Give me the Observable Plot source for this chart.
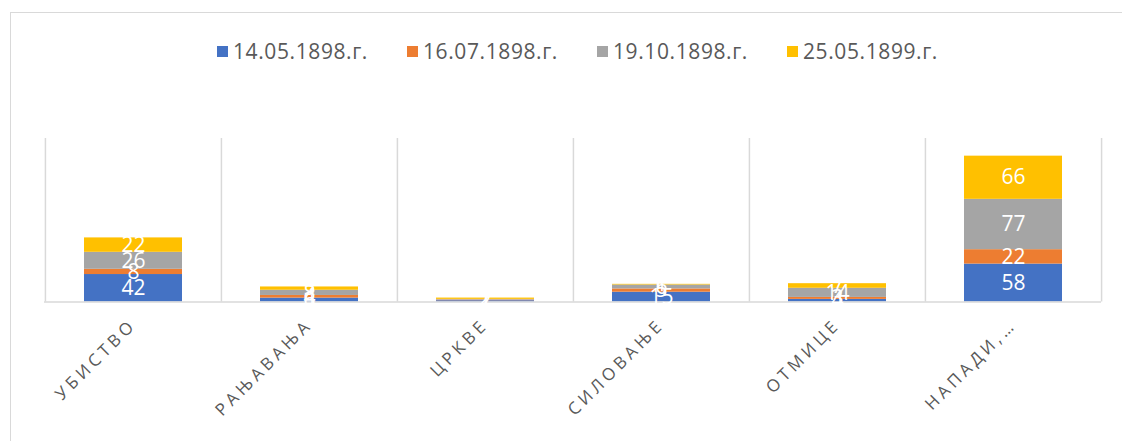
<!DOCTYPE html>
<html>
<head>
<meta charset="utf-8">
<script src="https://cdn.jsdelivr.net/npm/d3@7"></script>
<script src="https://cdn.jsdelivr.net/npm/@observablehq/plot@0.6"></script>
<style>
  html, body { margin: 0; padding: 0; background: #fff; overflow: hidden; }
  #wrap { position: relative; width: 1122px; height: 441px; }
  #border { position: absolute; left: 10px; top: 12px; width: 1130px; height: 450px; border: 1.5px solid #d9d9d9; box-sizing: border-box; }
  #legend { position: absolute; top: 37px; left: 217px; display: flex; font-family: "Open Sans", "Liberation Sans", sans-serif; font-size: 21px; letter-spacing: 0.6px; color: #595959; }
  #legend .item { display: flex; align-items: center; gap: 5px; width: 190px; }
  #legend .sw { width: 11px; height: 11px; display: inline-block; flex: none; }
  #chart { position: absolute; left: 0; top: 0; }
  #chart svg g[aria-label="x-axis tick label"] text, #chart svg g[aria-label="x-axis"] text { letter-spacing: 4px; }
</style>
</head>
<body>
<div id="wrap">
  <div id="border"></div>
  <div id="legend"></div>
  <div id="chart"></div>
</div>
<script>
const categories = ["УБИСТВО", "РАЊАВАЊА", "ЦРКВЕ", "СИЛОВАЊЕ", "ОТМИЦЕ", "НАПАДИ,…"];
const seriesNames = ["14.05.1898.г.", "16.07.1898.г.", "19.10.1898.г.", "25.05.1899.г."];
const seriesColors = ["#4472C4", "#ED7D31", "#A5A5A5", "#FFC000"];
const s1 = [42, 6, 2, 15, 4, 58];
const s2 = [8, 4, 1, 5, 3, 22];
const s3 = [26, 8, 1, 6, 14, 77];
const s4 = [22, 5, 2, 1, 7, 66];
const seriesValues = [s1, s2, s3, s4];

const data = [];
seriesNames.forEach((s, si) => {
  categories.forEach((c, ci) => {
    data.push({category: c, series: s, value: seriesValues[si][ci]});
  });
});

// legend
const legend = document.getElementById("legend");
seriesNames.forEach((s, i) => {
  const item = document.createElement("div");
  item.className = "item";
  const sw = document.createElement("span");
  sw.className = "sw";
  sw.style.background = seriesColors[i];
  const t = document.createElement("span");
  t.textContent = s;
  item.appendChild(sw);
  item.appendChild(t);
  legend.appendChild(item);
});

const W = 1122, H = 441, mL = 44, mR = 21, mT = 138, mB = 139.5;
const step = (W - mL - mR) / categories.length;

const chart = Plot.plot({
  width: W,
  height: H,
  marginLeft: mL,
  marginRight: mR,
  marginTop: mT,
  marginBottom: mB,
  style: {background: "transparent", fontFamily: "'Open Sans', 'Liberation Sans', sans-serif"},
  x: {domain: categories, paddingInner: 0.444, paddingOuter: 0.222, label: null},
  y: {domain: [0, 250], axis: null},
  color: {domain: seriesNames, range: seriesColors},
  marks: [
    Plot.ruleX(categories, {x: d => d, dx: -step / 2, y1: 0, y2: 250, stroke: "#d9d9d9", strokeWidth: 1.5}),
    Plot.ruleX([categories[categories.length - 1]], {x: d => d, dx: step / 2, y1: 0, y2: 250, stroke: "#d9d9d9", strokeWidth: 1.5}),
    Plot.barY(data, {x: "category", y: "value", fill: "series", order: seriesNames}),
    Plot.ruleY([0], {stroke: "#d9d9d9", strokeWidth: 1.5}),
    Plot.text(data, Plot.stackY({x: "category", y: "value", z: "series", order: seriesNames, text: d => String(d.value), fill: "white", fontSize: 21})),
    Plot.axisX({tickRotate: -45, tickSize: 0, tickPadding: 20, fontSize: 17, fill: "#595959", label: null})
  ]
});
document.getElementById("chart").appendChild(chart);
</script>
</body>
</html>
